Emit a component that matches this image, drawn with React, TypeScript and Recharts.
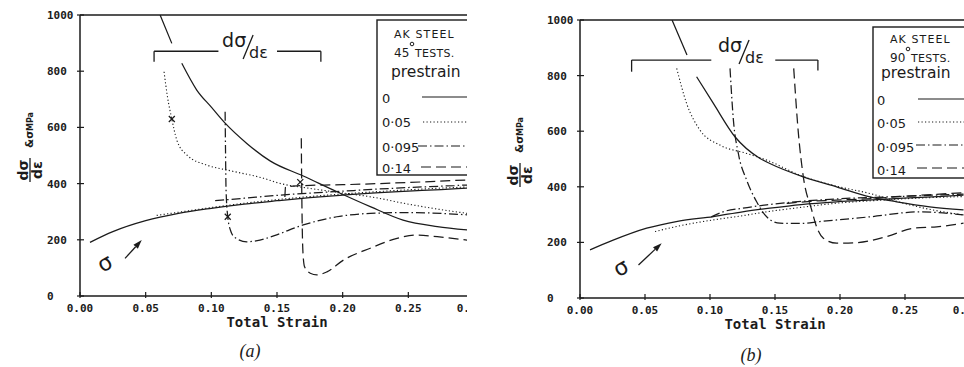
import React from 'react'
import { ComposedChart, Line, Scatter, XAxis, YAxis, ReferenceLine, ReferenceDot } from 'recharts'

const INK = '#1b1b1b'
const MONO = '"DejaVu Sans Mono", monospace'
const SANS = '"DejaVu Sans", sans-serif'

const strainTicks = [0, 0.05, 0.1, 0.15, 0.2, 0.25, 0.3]
const stressTicks = [0, 200, 400, 600, 800, 1000]
const prestrainLabels = ['0', '0·05', '0·095', '0·14']

type P = [number, number | null]

// (a) 45 degree tests: [total strain, MPa]
const stress0_45: P[] = [[0.0076, 191], [0.025, 229], [0.05, 268], [0.075, 294], [0.1, 312], [0.125, 327], [0.15, 339], [0.175, 350], [0.2, 359], [0.225, 367], [0.25, 373], [0.275, 379], [0.295, 384]]
const rate0_45: P[] = [[0.061, 1000], [0.0699, 899], [0.0737, null], [0.0775, 828], [0.0889, 733], [0.1, 672], [0.1105, 615], [0.127, 543], [0.145, 480], [0.17, 427], [0.1956, 371], [0.221, 318], [0.246, 270], [0.272, 247], [0.295, 235]]
const stress05_45: P[] = [[0.0584, 287], [0.075, 298], [0.1, 315], [0.125, 330], [0.15, 343], [0.175, 354], [0.2, 363], [0.225, 371], [0.25, 378], [0.275, 384], [0.295, 388]]
const rate05_45: P[] = [[0.064, 798], [0.0666, 709], [0.0699, 630], [0.0737, 555], [0.0813, 502], [0.0965, 466], [0.1143, 446], [0.1397, 419], [0.152, 401], [0.175, 383], [0.203, 365], [0.225, 350], [0.2464, 330], [0.27, 311], [0.295, 294]]
const stress095_45: P[] = [[0.1029, 339], [0.125, 348], [0.152, 359], [0.175, 366], [0.2, 373], [0.225, 380], [0.25, 386], [0.275, 391], [0.295, 395]]
const rate095_45: P[] = [[0.1105, 656], [0.1108, 520], [0.1112, 380], [0.1125, 282], [0.1145, 235], [0.118, 208], [0.127, 193], [0.137, 199], [0.148, 215], [0.17, 253], [0.1956, 282], [0.221, 294], [0.25, 297], [0.295, 289]]
const stress14_45: P[] = [[0.156, 352], [0.1565, 388], [0.165, 392], [0.2, 396], [0.25, 404], [0.295, 413]]
const rate14_45: P[] = [[0.1685, 561], [0.1688, 400], [0.1692, 250], [0.1698, 152], [0.171, 104], [0.1753, 81], [0.1804, 75], [0.188, 86], [0.2007, 128], [0.221, 170], [0.2414, 205], [0.2566, 217], [0.272, 211], [0.295, 199]]
const marks45: P[] = [[0.0699, 630], [0.1125, 282], [0.1677, 405]]

// (b) 90 degree tests
const stress0_90: P[] = [[0.0077, 173], [0.025, 207], [0.0513, 251], [0.075, 276], [0.1026, 293], [0.125, 310], [0.146, 323], [0.17, 336], [0.1974, 346], [0.225, 353], [0.2487, 359], [0.275, 365], [0.295, 370]]
const rate0_90: P[] = [[0.0708, 1000], [0.0823, 874], [0.086, null], [0.0897, 796], [0.1026, 700], [0.1192, 580], [0.1385, 502], [0.146, 484], [0.1718, 436], [0.1974, 400], [0.223, 364], [0.2436, 346], [0.269, 328], [0.295, 317]]
const stress05_90: P[] = [[0.0577, 239], [0.075, 258], [0.1026, 281], [0.125, 296], [0.1436, 310], [0.17, 326], [0.1974, 341], [0.225, 350], [0.25, 357], [0.295, 365]]
const rate05_90: P[] = [[0.0744, 826], [0.082, 700], [0.0923, 604], [0.1077, 550], [0.1282, 520], [0.1436, 496], [0.17, 440], [0.1974, 402], [0.223, 376], [0.2487, 341], [0.27, 318], [0.295, 299]]
const stress095_90: P[] = [[0.101, 292], [0.11, 310], [0.125, 323], [0.1436, 335], [0.17, 348], [0.2, 357], [0.25, 366], [0.295, 374]]
const rate095_90: P[] = [[0.1154, 826], [0.118, 640], [0.1218, 520], [0.1282, 424], [0.1359, 346], [0.1436, 292], [0.1538, 269], [0.17, 268], [0.1846, 275], [0.223, 292], [0.2615, 310], [0.295, 299]]
const stress14_90: P[] = [[0.159, 340], [0.175, 347], [0.197, 352], [0.225, 358], [0.25, 366], [0.295, 379]]
const rate14_90: P[] = [[0.1644, 826], [0.168, 592], [0.1718, 436], [0.1782, 317], [0.182, 256], [0.1872, 215], [0.1974, 197], [0.2128, 199], [0.236, 221], [0.2564, 251], [0.2744, 256], [0.295, 269]]
const marks90: P[] = []

// annotations (data coords)
const bracket45: P[][] = [[[0.0564, 834], [0.0564, 871], [0.1054, 871]], [[0.15, 871], [0.1834, 871], [0.1834, 834]]]
const bracket90: P[][] = [[[0.0397, 814], [0.0397, 856], [0.101, 856]], [[0.1502, 856], [0.183, 856], [0.183, 818]]]
const tag45: P = [0.1082, 886]
const tag90: P = [0.1062, 885]
const sigma45: P = [0.019, 116]
const sigma90: P = [0.0315, 108]
const arrow45: P[] = [[0.0343, 134], [0.047, 199]]
const arrow90: P[] = [[0.045, 119], [0.0628, 197]]

const DASHES = ['', '1.2 2.3', '9 3 1.5 3', '10 5']

const toPts = (arr: P[]) => arr.map(([s, v]) => ({ s, v }))

const XTick = (props: any) => {
  const { x, payload, axisY } = props
  return (
    <g>
      <line x1={x} x2={x} y1={axisY - 4} y2={axisY + 2} stroke={INK} strokeWidth={1.2} />
      <text x={x} y={axisY + 16} textAnchor="middle" fontFamily={MONO} fontWeight="bold" fontSize={11} fill={INK}>
        {Number(payload.value).toFixed(2)}
      </text>
    </g>
  )
}

const YTick = (props: any) => {
  const { y, payload, axisX } = props
  return (
    <g>
      <line x1={axisX - 3} x2={axisX + 4} y1={y} y2={y} stroke={INK} strokeWidth={1.2} />
      <text x={axisX - 33} y={y + 4} textAnchor="start" fontFamily={MONO} fontWeight="bold" fontSize={11} fill={INK}>
        {payload.value}
      </text>
    </g>
  )
}

const yTitle = (cx: number, cy: number) => () => (
  <g transform={`translate(${cx},${cy}) rotate(-90)`} fill={INK} fontFamily={SANS} fontWeight="bold">
    <text x={-20} y={-2} textAnchor="middle" fontSize={14}>dσ</text>
    <line x1={-32} x2={-8} y1={0} y2={0} stroke={INK} strokeWidth={1.3} />
    <text x={-20} y={12} textAnchor="middle" fontSize={14}>dε</text>
    <text x={2} y={3} fontSize={10.5}>&amp;σ</text>
    <text x={19} y={3} fontSize={8}>MPa</text>
  </g>
)

const XMark = (p: any) => (
  <g stroke={INK} strokeWidth={1.2}>
    <line x1={p.cx - 3} y1={p.cy - 3} x2={p.cx + 3} y2={p.cy + 3} />
    <line x1={p.cx - 3} y1={p.cy + 3} x2={p.cx + 3} y2={p.cy - 3} />
  </g>
)

const Arrow = (p: any) => {
  const { x1, y1, x2, y2 } = p
  const a = Math.atan2(y2 - y1, x2 - x1)
  const L = 9
  const W = 3
  const bx = x2 - L * Math.cos(a)
  const by = y2 - L * Math.sin(a)
  const pts = `${x2},${y2} ${bx + W * Math.sin(a)},${by - W * Math.cos(a)} ${bx - W * Math.sin(a)},${by + W * Math.cos(a)}`
  return (
    <g>
      <line x1={x1} y1={y1} x2={bx} y2={by} stroke={INK} strokeWidth={1.3} />
      <polygon points={pts} fill={INK} />
    </g>
  )
}

const RateTag = (p: any) => (
  <g fill={INK} fontFamily={SANS}>
    <text x={p.cx} y={p.cy} fontSize={19}>dσ</text>
    <line x1={p.cx + 31} y1={p.cy - 12} x2={p.cx + 21} y2={p.cy + 12} stroke={INK} strokeWidth={1.3} />
    <text x={p.cx + 27} y={p.cy + 11} fontSize={16}>dε</text>
  </g>
)

const SigmaTag = (p: any) => (
  <text
    x={p.cx}
    y={p.cy + 7}
    textAnchor="middle"
    fontFamily={SANS}
    fontSize={22}
    fill={INK}
    transform={`rotate(-30 ${p.cx} ${p.cy})`}
  >
    σ
  </text>
)

interface PanelCfg {
  left: number
  clipWidth: number
  chartWidth: number
  axisLeft: number
  top: number
  bottom: number
  angle: string
  series: { k: number; pts: P[] }[]
  marks: P[]
  bracket: P[][]
  tag: P
  sigma: P
  arrow: P[]
  yTitleAt: [number, number]
  legend: { x: number; y: number; h: number; ak: number; deg: number; pre: [number, number]; rowX: number; rows: number[]; samples: number[]; sampleX: number[] }
  caption: { text: string; x: number; y: number }
}

const panels: PanelCfg[] = [
  {
    left: 0, clipWidth: 467, chartWidth: 480, axisLeft: 80, top: 15, bottom: 296, angle: '45',
    series: [
      { k: 0, pts: stress0_45 }, { k: 0, pts: rate0_45 },
      { k: 1, pts: stress05_45 }, { k: 1, pts: rate05_45 },
      { k: 2, pts: stress095_45 }, { k: 2, pts: rate095_45 },
      { k: 3, pts: stress14_45 }, { k: 3, pts: rate14_45 },
    ],
    marks: marks45, bracket: bracket45, tag: tag45, sigma: sigma45, arrow: arrow45,
    yTitleAt: [30, 150],
    legend: { x: 377, y: 20, h: 155, ak: 18, deg: 37, pre: [14, 57], rowX: 5, rows: [83, 107, 132, 153], samples: [77, 102, 126, 147], sampleX: [45, 46, 41, 44] },
    caption: { text: '(a)', x: 250, y: 357 },
  },
  {
    left: 482, clipWidth: 482, chartWidth: 494, axisLeft: 98, top: 20, bottom: 298, angle: '90',
    series: [
      { k: 0, pts: stress0_90 }, { k: 0, pts: rate0_90 },
      { k: 1, pts: stress05_90 }, { k: 1, pts: rate05_90 },
      { k: 2, pts: stress095_90 }, { k: 2, pts: rate095_90 },
      { k: 3, pts: stress14_90 }, { k: 3, pts: rate14_90 },
    ],
    marks: marks90, bracket: bracket90, tag: tag90, sigma: sigma90, arrow: arrow90,
    yTitleAt: [38, 155],
    legend: { x: 391, y: 27, h: 151, ak: 16, deg: 35, pre: [8, 51], rowX: 4, rows: [78, 101, 125, 148], samples: [72, 95, 118, 141], sampleX: [45, 45, 43, 44] },
    caption: { text: '(b)', x: 269, y: 361 },
  },
]

function LegendBox({ cfg, angle }: { cfg: PanelCfg['legend']; angle: string }) {
  return (
    <g transform={`translate(${cfg.x},${cfg.y})`} fill={INK} fontFamily={SANS}>
      <rect x={0} y={0} width={200} height={cfg.h} fill="#fff" stroke={INK} strokeWidth={1.4} />
      <text x={17} y={cfg.ak} fontSize={11} letterSpacing={1.1}>AK STEEL</text>
      <text x={17} y={cfg.deg} fontSize={12}>{angle}</text>
      <circle cx={35} cy={cfg.deg - 13} r={1.8} fill="none" stroke={INK} strokeWidth={1} />
      <text x={38} y={cfg.deg} fontSize={11} letterSpacing={0.3}>TESTS.</text>
      <text x={cfg.pre[0]} y={cfg.pre[1]} fontSize={15.5}>prestrain</text>
      {prestrainLabels.map((lab, i) => (
        <g key={lab}>
          <text x={cfg.rowX} y={cfg.rows[i]} fontSize={13}>{lab}</text>
          <line x1={cfg.sampleX[i]} x2={120} y1={cfg.samples[i]} y2={cfg.samples[i]} stroke={INK} strokeWidth={1.2} strokeDasharray={DASHES[i]} />
        </g>
      ))}
    </g>
  )
}

function Panel({ cfg }: { cfg: PanelCfg }) {
  const right = 6
  const xAxisH = 40
  const plotMid = (cfg.axisLeft + cfg.chartWidth - right) / 2
  return (
    <div style={{ position: 'absolute', left: cfg.left, top: 0, width: cfg.clipWidth, height: 367, overflow: 'hidden' }}>
      <ComposedChart
        width={cfg.chartWidth}
        height={367}
        margin={{ top: cfg.top, right, bottom: 367 - cfg.bottom - xAxisH, left: 0 }}
      >
        <XAxis
          type="number"
          dataKey="s"
          domain={[0, 0.3]}
          ticks={strainTicks}
          allowDataOverflow
          height={xAxisH}
          tickLine={false}
          axisLine={{ stroke: INK, strokeWidth: 1.5 }}
          tick={<XTick axisY={cfg.bottom} />}
          label={() => (
            <text x={plotMid} y={cfg.bottom + 30.5} textAnchor="middle" fontFamily={MONO} fontWeight="bold" fontSize={14} fill={INK}>
              Total Strain
            </text>
          )}
        />
        <YAxis
          type="number"
          dataKey="v"
          domain={[0, 1000]}
          ticks={stressTicks}
          allowDataOverflow
          width={cfg.axisLeft}
          tickLine={false}
          axisLine={{ stroke: INK, strokeWidth: 1.5 }}
          tick={<YTick axisX={cfg.axisLeft} />}
          label={yTitle(cfg.yTitleAt[0], cfg.yTitleAt[1])}
        />
        <ReferenceLine y={1000} stroke={INK} strokeWidth={1.5} />
        {cfg.bracket.flatMap((poly, j) =>
          poly.slice(1).map((pt, i) => (
            <ReferenceLine
              key={`b${j}-${i}`}
              segment={[{ x: poly[i][0], y: poly[i][1] as number }, { x: pt[0], y: pt[1] as number }]}
              stroke={INK}
              strokeWidth={1.3}
            />
          ))
        )}
        <ReferenceDot x={cfg.tag[0]} y={cfg.tag[1] as number} r={0} shape={RateTag} />
        <ReferenceDot x={cfg.sigma[0]} y={cfg.sigma[1] as number} r={0} shape={SigmaTag} />
        <ReferenceLine
          segment={[{ x: cfg.arrow[0][0], y: cfg.arrow[0][1] as number }, { x: cfg.arrow[1][0], y: cfg.arrow[1][1] as number }]}
          shape={Arrow}
        />
        {cfg.series.map((c, i) => (
          <Line
            key={i}
            data={toPts(c.pts)}
            dataKey="v"
            type="monotone"
            stroke={INK}
            strokeWidth={c.k === 1 ? 1.1 : 1.25}
            strokeDasharray={DASHES[c.k]}
            dot={false}
            activeDot={false}
            connectNulls={false}
            isAnimationActive={false}
          />
        ))}
        {cfg.marks.length > 0 && (
          <Scatter data={toPts(cfg.marks)} dataKey="v" shape={XMark} isAnimationActive={false} />
        )}
      </ComposedChart>
      <svg style={{ position: 'absolute', left: 0, top: 0, pointerEvents: 'none' }} width={cfg.clipWidth} height={367}>
        <LegendBox cfg={cfg.legend} angle={cfg.angle} />
        <text x={cfg.caption.x} y={cfg.caption.y} textAnchor="middle" fontFamily='"Liberation Serif", serif' fontStyle="italic" fontSize={18} fill={INK}>
          {cfg.caption.text}
        </text>
      </svg>
    </div>
  )
}

export default function App() {
  return (
    <div style={{ position: 'absolute', left: 0, top: 0, width: 964, height: 367, background: '#fff', overflow: 'hidden' }}>
      {panels.map((p) => (
        <Panel key={p.angle} cfg={p} />
      ))}
    </div>
  )
}
